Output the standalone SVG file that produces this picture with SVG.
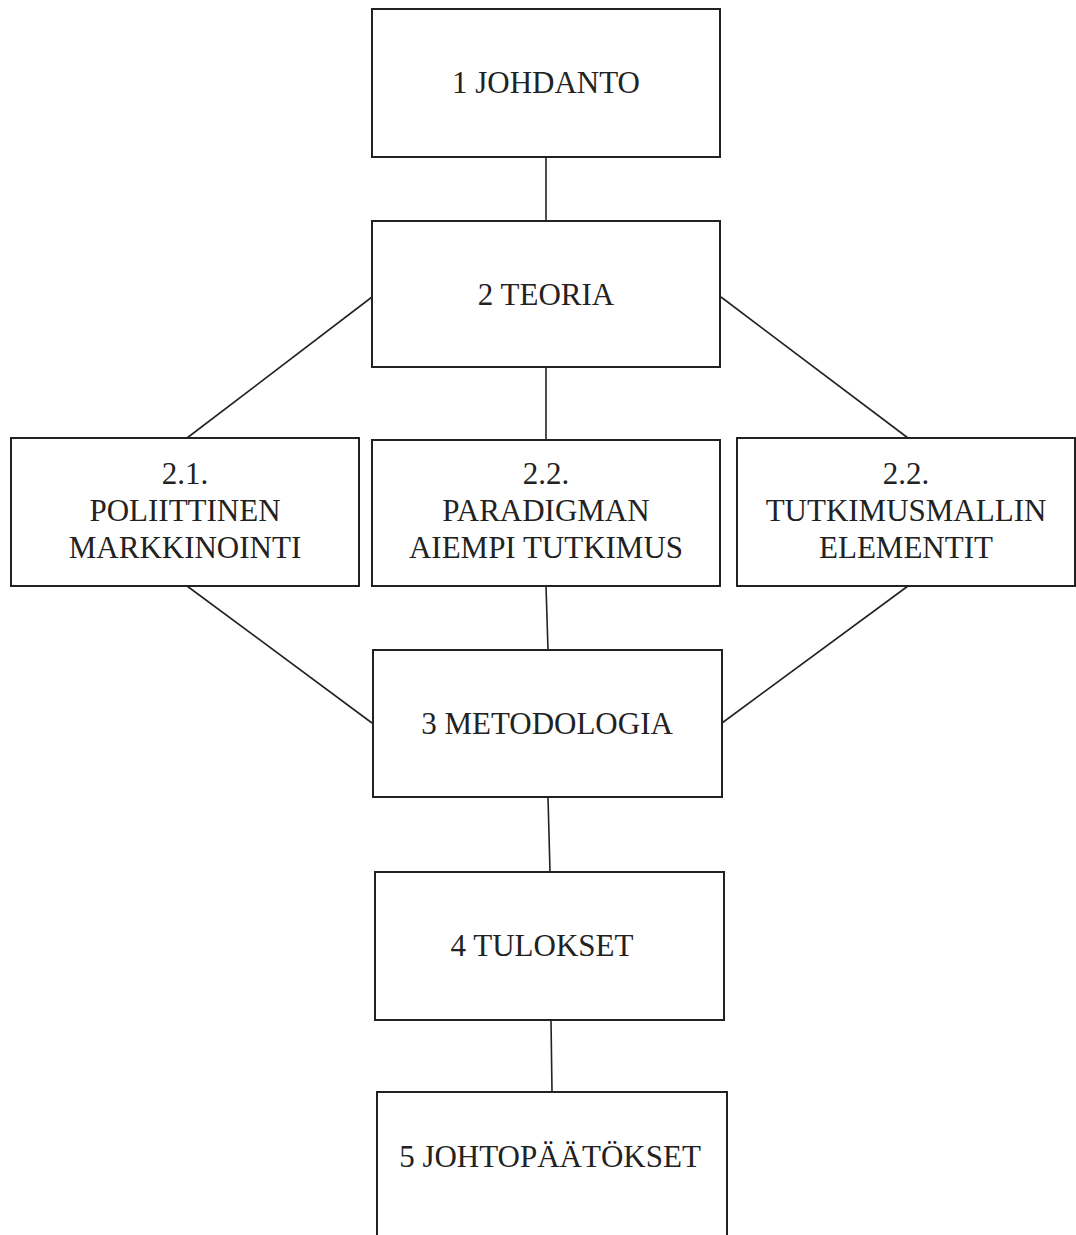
<svg xmlns="http://www.w3.org/2000/svg" width="1076" height="1235" viewBox="0 0 1076 1235">
<style>
.box{fill:#fff;stroke:#222;stroke-width:2}
.lbl{font-family:"Liberation Serif","Times New Roman",serif;font-size:31px;fill:#222;text-anchor:middle}
.con{stroke:#222;stroke-width:1.6;fill:none}
</style>
<rect width="1076" height="1235" fill="#fff"/>
<g id="connectors">
<line class="con" x1="546" y1="157" x2="546" y2="221"/>
<line class="con" x1="372" y1="297" x2="187" y2="438"/>
<line class="con" x1="546" y1="367" x2="546" y2="440"/>
<line class="con" x1="721" y1="297" x2="908" y2="438"/>
<line class="con" x1="187" y1="586" x2="372" y2="723"/>
<line class="con" x1="546" y1="586" x2="548" y2="650"/>
<line class="con" x1="908" y1="586" x2="722" y2="723"/>
<line class="con" x1="548" y1="797" x2="550" y2="872"/>
<line class="con" x1="551" y1="1020" x2="552" y2="1092"/>
</g>
<g id="n1"><rect class="box" x="372" y="9" width="348" height="148"/><text class="lbl" x="546" y="93">1 JOHDANTO</text></g>
<g id="n2"><rect class="box" x="372" y="221" width="348" height="146"/><text class="lbl" x="546" y="305">2 TEORIA</text></g>
<g id="n21"><rect class="box" x="11" y="438" width="348" height="148"/><text class="lbl" x="185" y="484">2.1.</text><text class="lbl" x="185" y="521">POLIITTINEN</text><text class="lbl" x="185" y="558">MARKKINOINTI</text></g>
<g id="n22a"><rect class="box" x="372" y="440" width="348" height="146"/><text class="lbl" x="546" y="484">2.2.</text><text class="lbl" x="546" y="521">PARADIGMAN</text><text class="lbl" x="546" y="558">AIEMPI TUTKIMUS</text></g>
<g id="n22b"><rect class="box" x="737" y="438" width="338" height="148"/><text class="lbl" x="906" y="484">2.2.</text><text class="lbl" x="906" y="521">TUTKIMUSMALLIN</text><text class="lbl" x="906" y="558">ELEMENTIT</text></g>
<g id="n3"><rect class="box" x="373" y="650" width="349" height="147"/><text class="lbl" x="547" y="734">3 METODOLOGIA</text></g>
<g id="n4"><rect class="box" x="375" y="872" width="349" height="148"/><text class="lbl" x="542" y="956">4 TULOKSET</text></g>
<g id="n5"><rect class="box" x="377" y="1092" width="350" height="150"/><text class="lbl" x="550" y="1167">5 JOHTOPÄÄTÖKSET</text></g>
</svg>
